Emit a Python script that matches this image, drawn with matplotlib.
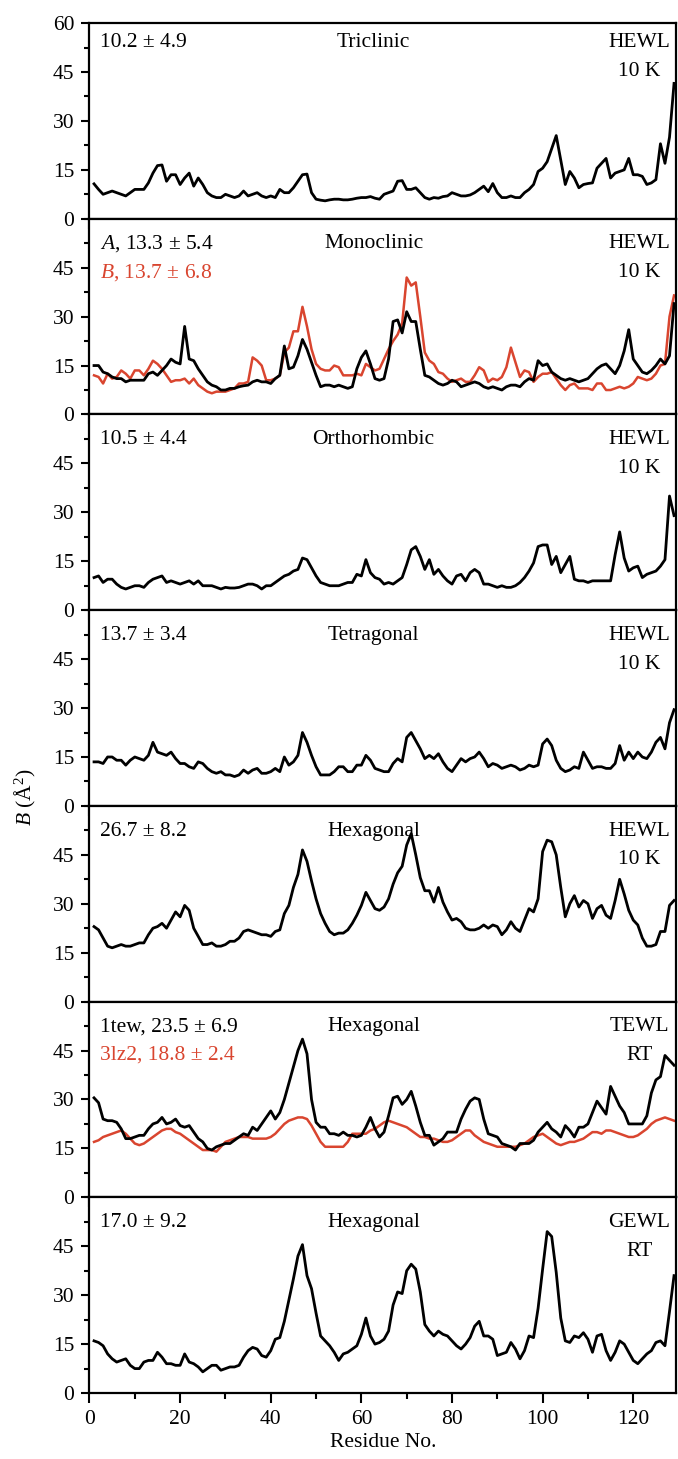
import numpy as np
import matplotlib
matplotlib.use("Agg")
import matplotlib.pyplot as plt
from matplotlib.ticker import MultipleLocator

plt.rcParams["font.family"] = "Liberation Serif"
plt.rcParams["mathtext.fontset"] = "custom"
plt.rcParams["mathtext.rm"] = "Liberation Serif"
plt.rcParams["mathtext.it"] = "Liberation Serif:italic"
plt.rcParams["font.size"] = 15.5

RED = "#d9452f"

residues = np.arange(1, 130)

triclinic = [10.7, 9, 7.5, 8, 8.5, 8, 7.5, 7, 8, 9,
             9, 9, 11, 14, 16.3, 16.5, 11.5, 13.5, 13.5, 10.5,
             12.5, 14, 10, 12.5, 10.5, 8, 7, 6.5, 6.5, 7.5,
             7, 6.5, 7, 8.5, 7, 7.5, 8, 7, 6.5, 7,
             6.5, 9, 8, 8, 9.5, 11.5, 13.5, 13.7, 8, 6,
             5.7, 5.5, 5.8, 6, 6, 5.8, 5.8, 6, 6.3, 6.5,
             6.5, 6.8, 6.3, 6, 7.5, 8, 8.5, 11.5, 11.7, 9,
             9, 9.5, 8, 6.5, 6, 6.5, 6.3, 6.8, 7, 8,
             7.5, 7, 7, 7.3, 8, 9, 10, 8.3, 10.8, 8,
             6.5, 6.5, 7, 6.5, 6.5, 8, 9, 10.5, 14.5, 15.5,
             17.5, 21.5, 25.5, 18, 10.5, 14.5, 12.5, 9.5, 10.5, 10.8,
             11, 15.5, 17, 18.5, 12.5, 14, 14.5, 15, 18.5, 13.5,
             13.5, 13, 10.5, 11, 12, 23, 17, 25, 41.5]

mono_a = [15, 15, 13, 12.5, 11.5, 11, 11, 10, 10.5, 10.5,
          10.5, 10.5, 12.5, 13, 12, 13.5, 15, 17, 16, 15.5,
          27, 17, 16.5, 14, 12, 10, 9, 8.5, 7.5, 7.5,
          8, 8, 8.5, 8.8, 9, 10, 10.5, 10, 10, 9.5,
          11, 12, 21, 14, 14.5, 18, 23, 20, 16, 12,
          8.5, 9, 9, 8.5, 9, 8.5, 8, 8.5, 14, 17.5,
          19.5, 15.5, 11, 10.5, 11, 17, 28.5, 29, 25, 31.5,
          28.5, 28.5, 20, 12, 11.5, 10.5, 9.5, 9, 9.5, 10.5,
          10, 8.5, 9, 9.5, 10, 9.5, 8.5, 8, 8.5, 8,
          7.5, 8.5, 9, 9, 8.5, 10, 11, 10.5, 16.5, 15,
          15.5, 13, 12, 11, 10.5, 11, 10.5, 10, 10.5, 11,
          12.5, 14, 15, 15.5, 14, 12.5, 15, 19.5, 26, 17,
          15, 13, 12.5, 13.5, 15, 17, 15.5, 18, 34]

mono_b = [12, 11.5, 9.5, 12.5, 11, 11.5, 13.5, 12.5, 11, 13.5,
          13.5, 12, 14, 16.5, 15.5, 14, 12, 10, 10.5, 10.5,
          11, 9.5, 11, 9, 8, 7, 6.5, 7, 7, 7,
          7.5, 8, 9.5, 9.5, 10, 17.5, 16.5, 15, 10.5, 10.5,
          11, 12, 19, 20.5, 25.5, 25.5, 33, 27, 20, 15.5,
          14, 13.5, 13.5, 15, 14.5, 12, 12, 12, 12.5, 12,
          15.5, 14.5, 13.5, 14, 17, 20, 22.5, 24.5, 28, 42,
          39.5, 40.5, 30, 19, 16.5, 15.5, 13, 12.5, 11, 10,
          10.5, 11, 10, 10, 12, 14.5, 13.5, 10, 11, 10.5,
          11.5, 14.5, 20.5, 16, 11.5, 13.5, 13, 10, 11.5, 12.5,
          12.5, 13, 11, 9, 7.5, 9, 9.5, 8, 8, 8,
          7.5, 9.5, 9.5, 7.5, 7.5, 8, 8.5, 8, 8.5, 9.5,
          11.5, 11, 10.5, 11, 12.5, 15, 15.5, 30, 36.5]

orthorhombic = [10, 10.5, 8.5, 9.5, 9.5, 8, 7, 6.5, 7, 7.5,
                7.5, 7, 8.5, 9.5, 10, 10.5, 8.5, 9, 8.5, 8,
                8.5, 9, 8, 9, 7.5, 7.5, 7.5, 7, 6.5, 7,
                6.8, 6.8, 7, 7.5, 8, 8, 7.5, 6.5, 7.5, 7.5,
                8.5, 9.5, 10.5, 11, 12, 12.5, 16, 15.5, 13, 10.5,
                8.5, 8, 7.5, 7.5, 7.5, 8, 8.5, 8.5, 11, 10.5,
                15.5, 11.5, 10, 9.5, 8, 8.5, 8, 9, 10, 14,
                18.5, 19.5, 16.5, 12.5, 15.5, 11, 12.5, 10.5, 9, 8,
                10.5, 11, 9, 11.5, 12.5, 11.5, 8, 8, 7.5, 7,
                7.5, 7, 7, 7.5, 8.5, 10, 12, 14.5, 19.5, 20,
                20, 14, 16.5, 11.5, 14, 16.5, 9.5, 9, 9, 8.5,
                9, 9, 9, 9, 9, 17, 24, 16, 12, 13,
                13.5, 10, 11, 11.5, 12, 13.5, 15.5, 35, 29]

tetragonal = [13.5, 13.5, 13, 15, 15, 14, 14, 12.5, 14, 15,
              14.5, 14, 15.5, 19.5, 16.5, 16, 15.5, 16.5, 14.5, 13,
              13, 12, 11.5, 13.5, 13, 11.5, 10.5, 10, 10.5, 9.5,
              9.5, 9, 9.5, 11, 10, 11, 11.5, 10, 10, 10.5,
              11.5, 10.5, 15, 12.5, 13.5, 15.5, 22.5, 19.5, 15.5, 12,
              9.5, 9.5, 9.5, 10.5, 12, 12, 10.5, 10.5, 12.5, 12.5,
              15.5, 14, 11.5, 11, 10.5, 10.5, 13, 14.5, 13.5, 21,
              22.5, 20, 17.5, 14.5, 15.5, 14.5, 16, 13.5, 11.5, 10.5,
              12.5, 14.5, 13.5, 14.5, 15, 16.5, 14.5, 12, 13, 12.5,
              11.5, 12, 12.5, 12, 11, 11.5, 12.5, 12, 12.5, 19,
              20.5, 18.5, 14, 11.5, 10.5, 11, 12, 11.5, 16.5, 14,
              11.5, 12, 12, 11.5, 11.5, 13, 18.5, 14, 16.5, 14.5,
              16.5, 15, 14.5, 16.5, 19.5, 21, 17.5, 25.5, 29.5]

hex_hewl = [23, 22, 19.5, 17, 16.5, 17, 17.5, 17, 17, 17.5,
            18, 18, 20.5, 22.5, 23, 24, 22.5, 25, 27.5, 26,
            29.5, 28, 22.5, 20, 17.5, 17.5, 18, 17, 17, 17.5,
            18.5, 18.5, 19.5, 21.5, 22, 21.5, 21, 20.5, 20.5, 20,
            21.5, 22, 27, 29.5, 35, 39, 46.5, 43, 37, 31.5,
            27, 24, 21.5, 20.5, 21, 21, 22, 24, 26.5, 29.5,
            33.5, 31, 28.5, 28, 29, 31.5, 36, 39.5, 41.5, 48,
            51.5, 45, 38, 34, 34, 30.5, 35, 30.5, 27.5, 25,
            25.5, 24.5, 22.5, 22, 22, 22.5, 23.5, 22.5, 23.5, 23,
            20.5, 22, 24.5, 22.5, 21.5, 25, 28.5, 27.5, 31.5, 46,
            49.5, 49, 45, 35, 26, 30, 32.5, 29, 31, 30,
            25.5, 28.5, 29.5, 26.5, 25.5, 31, 37.5, 33, 28, 25,
            23.5, 19.5, 17, 17, 17.5, 21.5, 21.5, 29.5, 31]

tewl_1tew = [30.5, 29, 24, 23.5, 23.5, 23, 21, 18, 18, 18.5,
             19, 19, 21, 22.5, 23, 24.5, 22.5, 23, 24, 22,
             21.5, 22, 20, 18, 17, 15, 14.5, 15.5, 16, 16.5,
             16.5, 17.5, 18.5, 19.5, 19, 21.5, 20.5, 22.5, 24.5, 26.5,
             24, 26, 30, 35, 40, 45, 48.5, 44, 30, 23,
             21.5, 21.5, 19.5, 19.5, 19, 20, 19, 19, 18.5, 19,
             21.5, 24.5, 21, 18.5, 20, 25, 30.5, 31, 28.5, 30,
             32.5, 28, 23, 19, 19, 16, 17, 18, 20, 20,
             20, 24, 27, 29.5, 30.5, 30, 24, 19.5, 19, 18.5,
             16.5, 16, 15.5, 14.5, 16.5, 16.5, 16.5, 17.5, 20, 21.5,
             23, 21, 20, 18.5, 22, 20.5, 18.5, 21.5, 21.5, 22.5,
             26, 29.5, 27.5, 25.5, 34, 31, 28, 26, 22.5, 22.5,
             22.5, 22.5, 25, 32, 36, 37, 43.5, 42, 40.5]

tewl_3lz2 = [17, 17.5, 18.5, 19, 19.5, 20, 20.5, 19.5, 18, 16.5,
             16, 16.5, 17.5, 18.5, 19.5, 20.5, 21, 21, 20, 19.5,
             18.5, 17.5, 16.5, 15.5, 14.5, 14.5, 14.5, 14, 15.5, 17,
             17.5, 18, 18.5, 18.5, 18.5, 18, 18, 18, 18, 18.5,
             19.5, 21, 22.5, 23.5, 24, 24.5, 24.5, 24, 22, 19.5,
             17, 15.5, 15.5, 15.5, 15.5, 15.5, 17, 19.5, 19.5, 19.5,
             19.5, 20.5, 21, 22, 23, 23.5, 23, 22.5, 22, 21.5,
             20.5, 19.5, 18.5, 18.5, 18, 18, 17.5, 17, 17, 17.5,
             18.5, 19.5, 20.5, 20.5, 19, 18, 17, 16.5, 16, 15.5,
             15.5, 15.5, 15.5, 15.5, 16, 16.5, 17.5, 18.5, 19, 19.5,
             18.5, 17.5, 16.5, 16, 16.5, 17, 17, 17.5, 18, 19,
             20, 20, 19.5, 20.5, 20.5, 20, 19.5, 19, 18.5, 18.5,
             19, 20, 21, 22.5, 23.5, 24, 24.5, 24, 23.5]

gewl = [16, 15.5, 14.5, 12, 10.5, 9.5, 10, 10.5, 8.5, 7.5,
        7.5, 9.5, 10, 10, 12.5, 11, 9, 9, 8.5, 8.5,
        12, 9.5, 9, 8, 6.5, 7.5, 8.5, 8.5, 7, 7.5,
        8, 8, 8.5, 11, 13, 14, 13.5, 11.5, 11, 13,
        16.5, 17, 22, 28.5, 35, 42, 45.5, 36, 32, 24.5,
        17.5, 16, 14.5, 12.5, 10, 12, 12.5, 13.5, 14.5, 18,
        23, 17.5, 15, 15.5, 16.5, 19, 27, 31, 30.5, 37.5,
        39.5, 38, 31, 21, 19, 17.5, 19, 18, 17.5, 16,
        14.5, 13.5, 15, 17, 20.5, 22, 17.5, 17.5, 16.5, 11.5,
        12, 12.5, 15.5, 13.5, 10.5, 13, 17.5, 17, 26, 38,
        49.5, 48, 37, 23, 16, 15.5, 17.5, 17, 18.5, 16.5,
        12.5, 17.5, 18, 13, 10, 12.5, 16, 15, 12.5, 10,
        9, 10.5, 12, 13, 15.5, 16, 14.5, 25, 36]

# (black series, red series or None, left label(s), centre label, right label)
panels = [
    (triclinic, None, ["10.2 \u00b1 4.9"], "Triclinic", "HEWL\n10 K"),
    (mono_a, mono_b, ["$A$, 13.3 \u00b1 5.4", "$B$, 13.7 \u00b1 6.8"], "Monoclinic", "HEWL\n10 K"),
    (orthorhombic, None, ["10.5 \u00b1 4.4"], "Orthorhombic", "HEWL\n10 K"),
    (tetragonal, None, ["13.7 \u00b1 3.4"], "Tetragonal", "HEWL\n10 K"),
    (hex_hewl, None, ["26.7 \u00b1 8.2"], "Hexagonal", "HEWL\n10 K"),
    (tewl_1tew, tewl_3lz2, ["1tew, 23.5 \u00b1 6.9", "3lz2, 18.8 \u00b1 2.4"], "Hexagonal", "TEWL\nRT"),
    (gewl, None, ["17.0 \u00b1 9.2"], "Hexagonal", "GEWL\nRT"),
]

fig, axs = plt.subplots(7, 1, figsize=(6.78, 14.59), dpi=100, sharex=True)
fig.subplots_adjust(left=0.132, right=0.9975, top=0.9842, bottom=0.0452, hspace=0)

for i, (ax, (black, red, left, centre, right)) in enumerate(zip(axs, panels)):
    ax.plot(residues, black, color="black", lw=2.0, zorder=3)
    if red is not None:
        ax.plot(residues, red, color=RED, lw=1.8, zorder=2)
    ax.set_xlim(0, 129.5)
    ax.set_ylim(0, 60)
    ax.set_yticks([0, 15, 30, 45, 60] if i == 0 else [0, 15, 30, 45])
    ax.yaxis.set_minor_locator(MultipleLocator(7.5))
    ax.xaxis.set_major_locator(MultipleLocator(20))
    ax.xaxis.set_minor_locator(MultipleLocator(10))
    ax.tick_params(which="both", direction="out", top=False, right=False, width=1.5)
    ax.tick_params(axis="x", which="major", length=7, pad=5)
    ax.tick_params(axis="x", which="minor", length=4.3)
    ax.tick_params(axis="y", which="major", length=6, pad=5)
    ax.tick_params(axis="y", which="minor", length=3.8)
    for sp in ax.spines.values():
        sp.set_linewidth(1.6)

    y1 = 53.9 if i == 0 else 52.3
    ax.text(2.3, y1, left[0], ha="left", va="center", color="black")
    if len(left) > 1:
        ax.text(2.3, y1 - 8.8, left[1], ha="left", va="center", color=RED)
    ax.text(62.7, y1, centre, ha="center", va="center")
    top_line, bottom_line = right.split("\n")
    ax.text(121.4, y1, top_line, ha="center", va="center")
    ax.text(121.4, y1 - 8.8, bottom_line, ha="center", va="center")

axs[-1].set_xlabel("Residue No.", labelpad=3)
fig.text(25 / 678, 1 - 797 / 1459, "$B$ (\u00c5$^2$)", rotation=90,
         ha="center", va="center", fontsize=15.5)

fig.savefig("out.png", dpi=100)
